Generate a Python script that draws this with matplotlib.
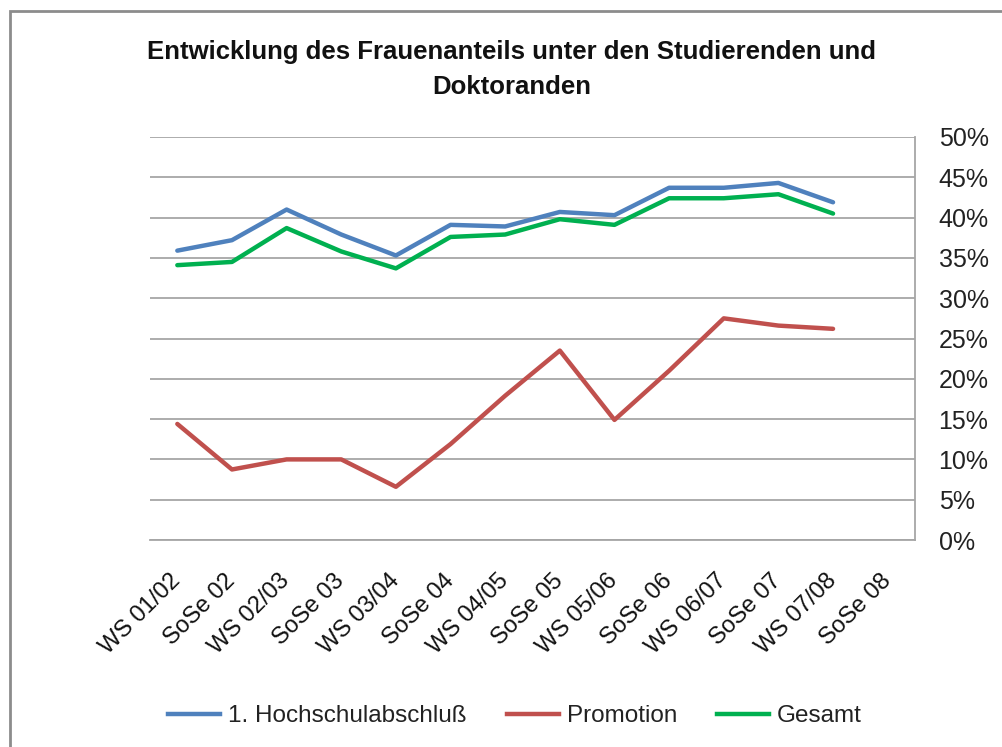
import matplotlib
matplotlib.use("Agg")
import matplotlib.pyplot as plt
import numpy as np
from matplotlib.patches import Rectangle
from matplotlib.lines import Line2D

categories = ["WS 01/02", "SoSe 02", "WS 02/03", "SoSe 03", "WS 03/04", "SoSe 04",
              "WS 04/05", "SoSe 05", "WS 05/06", "SoSe 06", "WS 06/07", "SoSe 07",
              "WS 07/08", "SoSe 08"]
hochschul = [35.9, 37.2, 41.0, 37.9, 35.3, 39.1, 38.9, 40.7, 40.3, 43.7, 43.7, 44.3, 41.9, np.nan]
promotion = [14.4, 8.75, 10.0, 10.0, 6.6, 11.9, 17.9, 23.5, 14.9, 21.0, 27.5, 26.6, 26.2, np.nan]
gesamt = [34.1, 34.5, 38.7, 35.8, 33.7, 37.6, 37.9, 39.8, 39.1, 42.4, 42.4, 42.9, 40.5, np.nan]
yticks = [0, 5, 10, 15, 20, 25, 30, 35, 40, 45, 50]
series_names = ["1. Hochschulabschluß", "Promotion", "Gesamt"]
colors = ["#4F81BD", "#C0504D", "#00B050"]

plt.rcParams['font.family'] = ['Liberation Sans', 'DejaVu Sans']

W, H = 1002, 747
fig = plt.figure(figsize=(W / 100, H / 100), dpi=100)

# outer chart border
fig.patches.append(Rectangle((10 / W, -0.1), 1.2, 1 - 11 / H + 0.1, transform=fig.transFigure,
                             fill=False, edgecolor="#8C8C8C", linewidth=2.0))

ax = fig.add_axes([150 / W, 1 - 540 / H, (915 - 150) / W, (540 - 137) / H])
x = np.arange(len(categories))
for vals, c, n in zip([hochschul, promotion, gesamt], colors, series_names):
    ax.plot(x, vals, color=c, linewidth=3.2, label=n, solid_capstyle='round', solid_joinstyle='round')

ax.set_xlim(-0.5, len(categories) - 0.5)
ax.set_ylim(0, 50)
ax.set_yticks(yticks)
ax.set_yticklabels([f"{v}%" for v in yticks])
ax.yaxis.tick_right()
ax.tick_params(axis='y', length=0, pad=17, labelsize=18, labelcolor="#222222")
ax.set_xticks(x)
ax.set_xticklabels(categories, rotation=45, ha='right', va='center', rotation_mode='anchor')
ax.tick_params(axis='x', length=0, pad=27, labelsize=17, labelcolor="#111111")
ax.grid(axis='y', color="#A6A6A6", linewidth=1.3)
ax.set_axisbelow(True)
for s in ['top', 'left']:
    ax.spines[s].set_visible(False)
ax.spines['right'].set_color("#A6A6A6")
ax.spines['bottom'].set_color("#A6A6A6")
ax.spines['right'].set_linewidth(1.3)
ax.spines['bottom'].set_linewidth(1.3)

fig.text(512 / W, 1 - 52 / H, "Entwicklung des Frauenanteils unter den Studierenden und",
         ha='center', va='center', fontsize=18.5, fontweight='bold', color="#111111")
fig.text(512 / W, 1 - 87 / H, "Doktoranden",
         ha='center', va='center', fontsize=18.5, fontweight='bold', color="#111111")

handles = [Line2D([], [], color=c, linewidth=3.2) for c in colors]
fig.legend(handles, series_names, loc='center', bbox_to_anchor=(515 / W, 1 - 716 / H),
           ncol=3, frameon=False, fontsize=17.5, handlelength=2.14, handletextpad=0.33,
           columnspacing=1.65, labelcolor="#222222")

fig.savefig("out.png", dpi=100)
